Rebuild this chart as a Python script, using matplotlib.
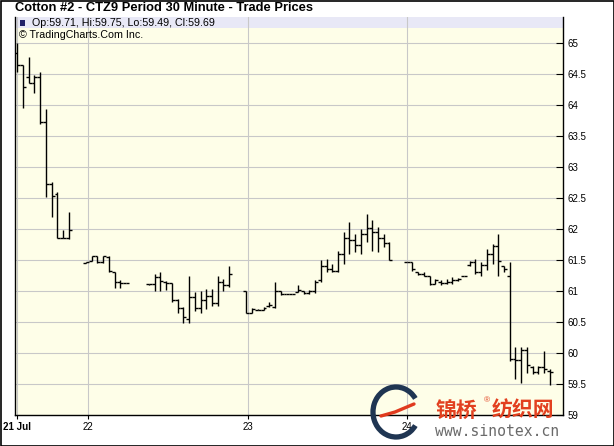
import matplotlib
matplotlib.use("Agg")
import matplotlib.pyplot as plt
from matplotlib.patches import Rectangle, Arc

# 30 minute bars, x = bar slot (gaps are missing sessions)
slot = [0, 1, 2, 3, 4, 5, 6, 7, 8, 9,
        12, 13, 14, 15, 16, 17, 18, 19,
        23, 24, 25, 26, 27, 28, 29, 30, 31, 32, 33, 34, 35, 36, 37,
        40, 41, 42, 43, 44, 45, 46, 47, 48, 49, 50, 51, 52, 53, 54, 55, 56,
        57, 58, 59, 60, 61, 62, 63, 64, 65,
        68, 69, 70, 71, 72, 73, 74, 75, 76, 77, 78, 79, 80, 81, 82, 83, 84,
        85, 86, 87, 88, 89, 90, 91, 92, 93]
opens = [64.84, 64.64, 64.45, 64.36, 64.46, 63.73, 62.73, 62.57, 61.86, 61.86,
         61.45, 61.48, 61.57, 61.46, 61.55, 61.30, 61.15, 61.13,
         61.11, 61.11, 61.22, 61.15, 61.13, 60.86, 60.72, 60.55, 60.90, 60.72, 60.85, 60.92, 60.80, 61.15, 61.10,
         61.00, 60.65, 60.70, 60.70, 60.76, 60.75, 61.00, 60.95, 60.95, 60.98, 61.00, 60.97, 61.00, 61.18, 61.40, 61.35, 61.33,
         61.60, 61.85, 61.83, 61.75, 61.92, 62.02, 61.95, 61.85, 61.78,
         61.46, 61.46, 61.30, 61.28, 61.25, 61.12, 61.15, 61.13, 61.15, 61.18, 61.25, 61.42, 61.46, 61.30, 61.42, 61.60, 61.72,
         61.40, 61.25, 59.90, 59.88, 60.05, 59.78, 59.70, 59.78, 59.71]
highs = [65.00, 64.64, 64.77, 64.48, 64.54, 63.94, 62.76, 62.60, 61.98, 62.27,
         61.47, 61.57, 61.57, 61.57, 61.57, 61.30, 61.17, 61.13,
         61.12, 61.28, 61.30, 61.16, 61.13, 60.87, 60.75, 61.25, 60.98, 61.00, 61.03, 61.03, 61.25, 61.19, 61.41,
         61.00, 60.73, 60.71, 60.74, 60.82, 61.14, 61.00, 60.95, 60.95, 61.10, 61.00, 61.02, 61.18, 61.50, 61.52, 61.43, 61.65,
         61.95, 62.11, 61.92, 62.00, 62.25, 62.14, 62.03, 61.92, 61.79,
         61.46, 61.46, 61.31, 61.30, 61.25, 61.19, 61.17, 61.19, 61.23, 61.21, 61.25, 61.49, 61.52, 61.46, 61.68, 61.76, 61.92,
         61.41, 61.46, 60.09, 60.09, 60.09, 59.79, 59.79, 60.04, 59.75]
lows = [64.54, 63.96, 64.36, 64.19, 63.69, 62.51, 62.19, 61.86, 61.86, 61.84,
        61.45, 61.48, 61.45, 61.45, 61.30, 61.05, 61.05, 61.13,
        61.10, 61.00, 61.00, 61.02, 60.82, 60.65, 60.49, 60.49, 60.68, 60.65, 60.71, 60.76, 60.76, 61.00, 61.06,
        60.64, 60.64, 60.69, 60.69, 60.74, 60.72, 60.94, 60.95, 60.95, 60.98, 60.95, 60.95, 60.96, 61.14, 61.30, 61.30, 61.30,
        61.44, 61.60, 61.63, 61.60, 61.79, 61.65, 61.63, 61.71, 61.50,
        61.46, 61.33, 61.26, 61.25, 61.10, 61.11, 61.10, 61.11, 61.11, 61.16, 61.25, 61.41, 61.27, 61.25, 61.34, 61.44, 61.25,
        61.30, 59.87, 59.58, 59.52, 59.68, 59.66, 59.66, 59.68, 59.49]
closes = [64.64, 64.29, 64.36, 64.46, 63.73, 62.73, 62.54, 61.86, 61.86, 61.98,
          61.46, 61.57, 61.46, 61.57, 61.32, 61.15, 61.13, 61.13,
          61.11, 61.22, 61.16, 61.13, 60.86, 60.72, 60.58, 60.90, 60.72, 60.85, 60.92, 60.80, 61.15, 61.10, 61.28,
          60.65, 60.71, 60.70, 60.72, 60.78, 61.00, 60.95, 60.95, 60.95, 61.02, 60.97, 61.00, 61.15, 61.40, 61.35, 61.33, 61.60,
          61.85, 61.83, 61.75, 61.92, 62.02, 61.95, 61.85, 61.78, 61.50,
          61.46, 61.35, 61.28, 61.25, 61.12, 61.17, 61.13, 61.15, 61.17, 61.20, 61.25, 61.46, 61.30, 61.42, 61.60, 61.72, 61.48,
          61.35, 59.90, 59.88, 60.05, 59.80, 59.70, 59.78, 59.75, 59.69]

day_pos = [0, 12.3, 40.3, 68.0]
day_labels = ["21 Jul", "22", "23", "24"]
price_ticks = [59, 59.5, 60, 60.5, 61, 61.5, 62, 62.5, 63, 63.5, 64, 64.5, 65]

plt.rcParams['font.family'] = ['Liberation Sans', 'DejaVu Sans']

fig = plt.figure(figsize=(6.14, 4.46), dpi=100)
W, H = 614.0, 446.0
ax = fig.add_axes([15 / W, 31 / H, 548 / W, 398 / H])
ax.set_facecolor('#fefee8')
ax.set_xlim(-0.4, 95.3)
ax.set_ylim(59.0, 65.42)

# info strip at the top of the plot
ax.add_patch(Rectangle((0, 1 - 11 / 398.0), 1, 11 / 398.0, transform=ax.transAxes,
                       facecolor='#e8e8f6', edgecolor='none', zorder=0.5))

ax.grid(True, color='#c8c8c8', lw=0.8, zorder=1)
ax.set_axisbelow(True)

# OHLC bars
tick = 0.5
ax.vlines(slot, lows, highs, color='black', lw=1.0, zorder=3)
ax.hlines(opens, [s - tick for s in slot], slot, color='black', lw=1.0, zorder=3)
ax.hlines(closes, slot, [s + tick for s in slot], color='black', lw=1.0, zorder=3)

ax.yaxis.tick_right()
ax.set_yticks(price_ticks)
ax.set_yticklabels([('%g' % p) for p in price_ticks], fontsize=7)
ax.tick_params(axis='y', direction='in', length=5, width=0.8, pad=3, color='black')
ax.set_xticks(day_pos)
ax.set_xticklabels(day_labels, fontsize=7)
ax.get_xticklabels()[0].set_fontweight('bold')
ax.tick_params(axis='x', direction='out', length=3, width=0.8, pad=2)

ax.spines['top'].set_visible(False)
for side in ['left', 'right', 'bottom']:
    ax.spines[side].set_color('black')
    ax.spines[side].set_linewidth(1.0)

# texts
fig.text(15 / W, 1 - 8 / H, "Cotton #2 - CTZ9 Period 30 Minute - Trade Prices",
         fontsize=9.3, fontweight='bold', va='center', ha='left')
fig.text(32 / W, 1 - 23 / H, "Op:59.71, Hi:59.75, Lo:59.49, Cl:59.69",
         fontsize=7.7, va='center', ha='left')
fig.text(19 / W, 1 - 34.5 / H, "\u00a9 TradingCharts.Com Inc.",
         fontsize=7.7, va='center', ha='left')

# overlay in pixel units for marker, border and watermark
ov = fig.add_axes([0, 0, 1, 1])
ov.set_xlim(0, W)
ov.set_ylim(H, 0)
ov.axis('off')
ov.patch.set_alpha(0)
ov.add_patch(Rectangle((20, 19.5), 5, 6, facecolor='#202068', edgecolor='none'))
ov.add_patch(Rectangle((0.5, 0.5), W - 1, H - 1, fill=False, edgecolor='black', lw=1.2))

# sinotex watermark
ov.add_patch(Arc((396, 412), 46, 50, theta1=35, theta2=325, color='#1f3552', lw=3.8))
ov.plot([381, 395, 414], [416, 412, 404], color='#e03a1e', lw=2.4, solid_capstyle='round')
ov.text(436, 410, "\u9526\u6865", color='#e2401f', fontsize=15, fontweight='bold',
        family=['Noto Sans CJK SC', 'DejaVu Sans'], va='center', ha='left')
ov.text(484, 401, "\u00ae", color='#e2401f', fontsize=6, va='center', ha='left')
ov.text(492, 410, "\u7eba\u7ec7\u7f51", color='#e2401f', fontsize=15, fontweight='bold',
        family=['Noto Sans CJK SC', 'DejaVu Sans'], va='center', ha='left')
ov.text(435, 432, "www.sinotex.cn", color='#6a6a6a', fontsize=10.6,
        family='DejaVu Sans Mono', va='center', ha='left')

fig.savefig('out.png', dpi=100)
